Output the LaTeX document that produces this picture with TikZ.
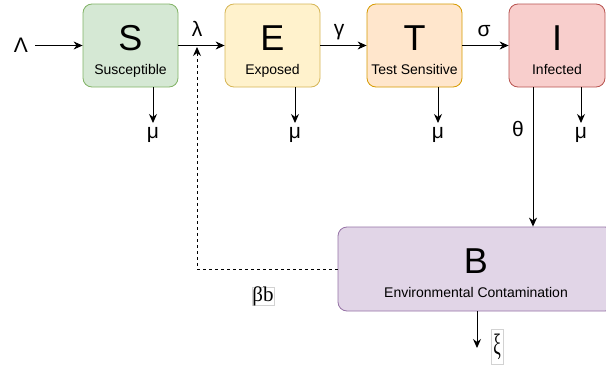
\documentclass[tikz,border=0pt]{standalone}
\usepackage{fontspec}
\setmainfont{Liberation Sans}
\newfontfamily\serifgr{Liberation Serif}
\usetikzlibrary{arrows.meta}
\definecolor{sfill}{HTML}{D5E8D4}\definecolor{sdraw}{HTML}{82B366}
\definecolor{efill}{HTML}{FFF2CC}\definecolor{edraw}{HTML}{D6B656}
\definecolor{tfill}{HTML}{FFE6CC}\definecolor{tdraw}{HTML}{D79B00}
\definecolor{ifill}{HTML}{F8CECC}\definecolor{idraw}{HTML}{B85450}
\definecolor{bfill}{HTML}{E1D5E7}\definecolor{bdraw}{HTML}{9673A6}
\begin{document}
\begin{tikzpicture}[x=1pt,y=-1pt,
  box/.style={draw, rounded corners=9pt, line width=0.8pt, minimum width=95pt, minimum height=83pt, inner sep=0pt},
  big/.style={font=\fontsize{36}{36}\selectfont, anchor=base, inner sep=0pt},
  sub/.style={font=\fontsize{14}{14}\selectfont, anchor=base, inner sep=0pt},
  gr/.style={font=\fontsize{21}{21}\selectfont, inner sep=0pt},
  sgr/.style={font=\serifgr\fontsize{21}{21}\selectfont, inner sep=0pt},
  arr/.style={-{Stealth[length=9pt,width=8pt]}, line width=1pt},
]
\useasboundingbox (0,0) rectangle (606,367);
\clip (0,0) rectangle (606,367);
\fill[white] (0,0) rectangle (606,367);
% boxes
\node[box, fill=sfill, draw=sdraw] (S) at (130.5,45.5) {};
\node[big] (Sl) at (130.5,50) {S};
\node[sub] (Ss) at (130.5,74.5) {Susceptible};
\node[box, fill=efill, draw=edraw] (E) at (272.5,45.5) {};
\node[big] (El) at (272.5,50) {E};
\node[sub] (Es) at (272.5,74.5) {Exposed};
\node[box, fill=tfill, draw=tdraw] (T) at (414.5,45.5) {};
\node[big] (Tl) at (414.5,50) {T};
\node[sub] (Ts) at (414.5,74.5) {Test Sensitive};
\node[box, fill=ifill, draw=idraw, minimum width=96pt] (I) at (557,45.5) {};
\node[big] (Il) at (557,50) {I};
\node[sub] (Is) at (557,74.5) {Infected};
\node[box, fill=bfill, draw=bdraw, minimum width=276pt, minimum height=84pt] (B) at (476,269) {};
\node[big] (Bl) at (476,273) {B};
\node[sub] (Bs) at (476,297) {Environmental Contamination};
% inflow
\node[gr] (Lam) at (21,45) {Λ};
\coordinate (LamStart) at (35,45.5);
\draw[arr] (LamStart) -- (S.west);
% transitions
\draw[arr] (S.east) -- (E.west);
\node[gr] (lam) at (197,29) {λ};
\draw[arr] (E.east) -- (T.west);
\node[gr] (gam) at (339,32) {γ};
\draw[arr] (T.east) -- (I.west);
\node[gr] (sig) at (484,31) {σ};
% deaths
\foreach \n/\x in {S/153,E/295,T/438,I/581}{
  \coordinate (mu\n) at (\x,123);
  \draw[arr] (\n.south -| mu\n) -- (mu\n);
  \node[gr] (mul\n) at (\x,135) {μ};
}
% theta
\coordinate (th) at (533,0);
\draw[arr] (I.south -| th) -- (B.north -| th);
\node[gr] (thl) at (518,129) {θ};
% dashed feedback
\coordinate (fb) at (197,47);
\draw[arr, dashed, dash pattern=on 3pt off 3pt] (B.west) -| (fb);
\draw[draw=gray!35, line width=0.5pt] (252,287) rectangle (274,305);
\node[sgr] (bb) at (263,296) {βb};
% xi
\coordinate (xi) at (477,348);
\draw[arr] (B.south -| xi) -- (xi);
\node[sgr, draw=gray!35, line width=0.5pt, minimum width=12pt, minimum height=35pt] (xil) at (497,346.5) {\scalebox{0.8}[1.4]{ξ}};
\end{tikzpicture}
\end{document}
